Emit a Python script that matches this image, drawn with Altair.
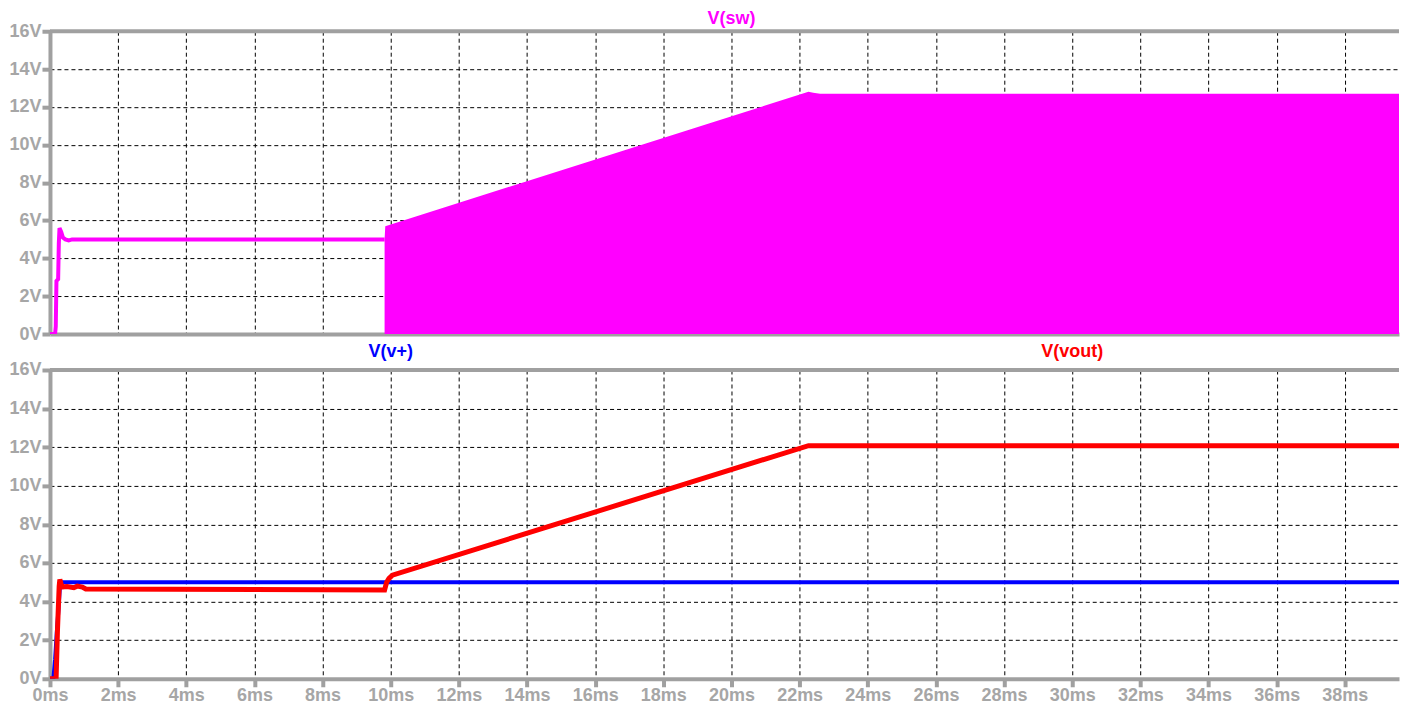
import altair as alt
import pandas as pd

GRAY = "#a0a0a0"
LABEL = "#a6a6a6"
FONT = "Liberation Sans"

# ---- data (time in ms, voltage in V) ----
sw_time = [0, 0.15, 0.17, 0.19, 0.24, 0.26, 0.28, 0.33, 0.38, 0.45, 0.55, 0.65, 9.82]
sw_volt = [0, 0, 0.4, 2.8, 2.9, 4.8, 5.6, 5.4, 5.1, 5.0, 4.95, 5.0, 5.0]

sw_env_time = [9.82, 9.84, 22.26, 22.4, 22.6, 40.0]
sw_env_volt = [5.0, 5.7, 12.8, 12.75, 12.7, 12.7]

vplus_time = [0, 0.1, 0.15, 0.2, 0.25, 0.3, 40.0]
vplus_volt = [0, 0, 1.0, 2.4, 3.6, 5.0, 5.0]

vout_time = [0, 0.18, 0.22, 0.27, 0.29, 0.35, 0.5, 0.7, 0.8, 0.95, 1.05, 9.82,
             9.88, 9.95, 10.05, 22.26, 40.0]
vout_volt = [0, 0, 2.5, 4.8, 5.15, 4.75, 4.78, 4.72, 4.8, 4.75, 4.65, 4.6,
             5.0, 5.2, 5.37, 12.08, 12.08]

x_ticks = list(range(0, 40, 2))
y_ticks = list(range(0, 17, 2))
T_MAX = 39.59  # visible end of the time axis

sw_df = pd.DataFrame({"t": sw_time, "v": sw_volt})
env_df = pd.DataFrame({"t": sw_env_time, "v": sw_env_volt})
vplus_df = pd.DataFrame({"t": vplus_time, "v": vplus_volt})
vout_df = pd.DataFrame({"t": vout_time, "v": vout_volt})
border_df = pd.DataFrame({"t": [0.0, T_MAX], "v": [16, 16]})

xscale = alt.Scale(domain=[0, T_MAX], nice=False, zero=False, clamp=True)
yscale = alt.Scale(domain=[0, 16], nice=False)


def x_axis(show_labels):
    return alt.Axis(
        values=x_ticks,
        labelExpr="datum.value + 'ms'",
        labels=show_labels,
        ticks=show_labels,
        title=None,
        grid=True,
        tickSize=8,
        labelPadding=0,
        labelFlush=False,
    )


Y_AXIS = alt.Axis(
    values=y_ticks,
    labelExpr="datum.value + 'V'",
    title=None,
    grid=True,
    tickSize=8,
    labelPadding=1,
    labelFlush=False,
)


def enc(show_labels):
    return dict(
        x=alt.X("t:Q", scale=xscale, axis=x_axis(show_labels)),
        y=alt.Y("v:Q", scale=yscale, axis=Y_AXIS),
    )


def top_border(show_labels):
    return alt.Chart(border_df).mark_line(color=GRAY, strokeWidth=4).encode(**enc(show_labels))


def title_text(label, t, color, dy, show_labels):
    return alt.Chart(pd.DataFrame({"t": [t], "label": [label]})).mark_text(
        font=FONT, fontSize=18, fontWeight="bold", color=color, baseline="middle", align="center"
    ).encode(
        x=alt.X("t:Q", scale=xscale, axis=x_axis(show_labels)),
        y=alt.value(dy),
        text="label:N",
    )


W = 1350
H_TOP = 303
H_BOT = 309

top = alt.layer(
    alt.Chart(sw_df).mark_line(color="#ff00ff", strokeWidth=4, clip=True).encode(**enc(False)),
    alt.Chart(env_df).mark_area(color="#ff00ff", opacity=1, clip=True).encode(**enc(False)),
    top_border(False),
    title_text("V(sw)", 20, "#ff00ff", -12, False),
).properties(width=W, height=H_TOP)

bottom = alt.layer(
    alt.Chart(vplus_df).mark_line(color="#0000ff", strokeWidth=4, clip=True).encode(**enc(True)),
    alt.Chart(vout_df).mark_line(color="#ff0000", strokeWidth=5, clip=True).encode(**enc(True)),
    top_border(True),
    title_text("V(v+)", 10, "#0000ff", -18, True),
    title_text("V(vout)", 30, "#ff0000", -18, True),
).properties(width=W, height=H_BOT)

chart = (
    alt.VConcatChart(vconcat=[top, bottom], bounds="flush", spacing=36)
    .properties(padding={"top": 2, "left": 0, "right": 0, "bottom": 0})
    .configure_view(stroke=None)
    .configure_axis(
        domainColor=GRAY,
        domainWidth=4,
        tickColor=GRAY,
        tickWidth=4,
        gridColor="#000000",
        gridDash=[4, 3],
        gridWidth=1,
        gridOpacity=1,
        labelColor=LABEL,
        labelFont=FONT,
        labelFontSize=18,
        labelFontWeight="bold",
    )
)

chart.save("out.html", embed_options={"renderer": "svg", "actions": False})
